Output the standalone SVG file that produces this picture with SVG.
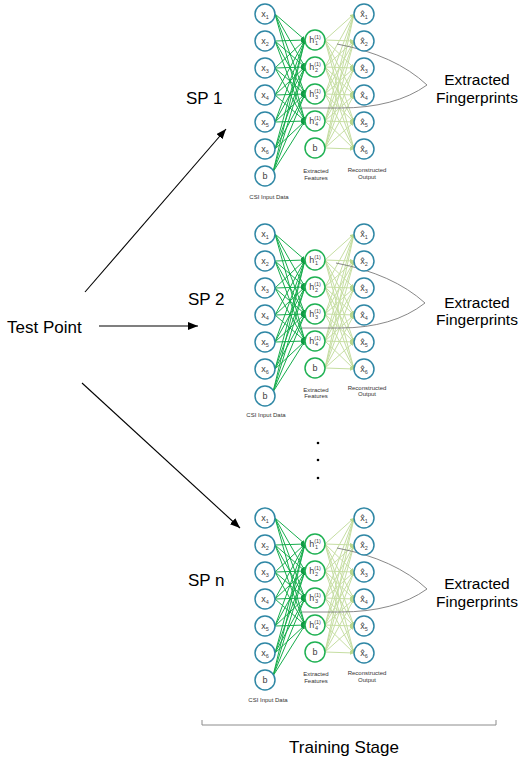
<svg xmlns="http://www.w3.org/2000/svg" width="520" height="760" viewBox="0 0 520 760">
<style>
.big{font-family:"Liberation Sans",Arial,sans-serif;font-size:17px;fill:#000}
.fp{font-family:"Liberation Sans",Arial,sans-serif;font-size:15.5px;fill:#000;text-anchor:middle}
.sm{font-family:"Liberation Sans",Arial,sans-serif;font-size:6px;fill:#333;text-anchor:middle}
.lbl{font-family:"Liberation Sans","DejaVu Sans",sans-serif;font-size:9px;fill:#404040;text-anchor:middle}
.sub{font-size:5.5px}
.in{fill:#fff;stroke:#2f87a5;stroke-width:1.5}
.hid{fill:#fff;stroke:#1fb153;stroke-width:1.5}
.out{fill:#fff;stroke:#2f87a5;stroke-width:1.5}
.e1 line{stroke:#16ad4c;stroke-width:1;marker-end:url(#ag)}
.e2 line{stroke:#c6dea2;stroke-width:1;marker-end:url(#al)}
.fpl{fill:none;stroke:#7a7a7a;stroke-width:0.9}
.arr{stroke:#000;stroke-width:1.1;marker-end:url(#ab)}
</style>
<defs>
<marker id="ag" viewBox="0 0 6 6" refX="6" refY="3" markerWidth="4" markerHeight="4" orient="auto"><path d="M0,0L6,3L0,6z" fill="#0f9a42"/></marker>
<marker id="al" viewBox="0 0 6 6" refX="6" refY="3" markerWidth="4" markerHeight="4" orient="auto"><path d="M0,0L6,3L0,6z" fill="#b8d68c"/></marker>
<marker id="ab" viewBox="0 0 10 8" refX="10" refY="4" markerWidth="10" markerHeight="8" markerUnits="userSpaceOnUse" orient="auto"><path d="M0,0L10,4L0,8z" fill="#000"/></marker>
</defs>
<rect width="520" height="760" fill="#fff"/>

<g id="main-connectors">
<line class="arr" x1="85" y1="292" x2="226" y2="129"/>
<line class="arr" x1="99" y1="326" x2="198" y2="326"/>
<line class="arr" x1="82" y1="383" x2="240" y2="528"/>
</g>

<g id="test-point"><text class="big" x="7" y="333">Test Point</text></g>
<g id="sp1-label"><text class="big" x="186" y="104">SP 1</text></g>
<g id="sp2-label"><text class="big" x="188" y="305">SP 2</text></g>
<g id="spn-label"><text class="big" x="188" y="586">SP n</text></g>

<g id="dots" fill="#000">
<circle cx="318" cy="443" r="1.3"/>
<circle cx="318" cy="460" r="1.3"/>
<circle cx="318" cy="478" r="1.3"/>
</g>

<!-- Network SP 1 -->
<g id="net1">
<g id="net1-connectors">
<g class="e1">
<line x1="275" y1="14" x2="305" y2="40"/><line x1="275" y1="14" x2="305" y2="67"/><line x1="275" y1="14" x2="305" y2="94"/><line x1="275" y1="14" x2="305" y2="121"/>
<line x1="275" y1="41" x2="305" y2="40"/><line x1="275" y1="41" x2="305" y2="67"/><line x1="275" y1="41" x2="305" y2="94"/><line x1="275" y1="41" x2="305" y2="121"/>
<line x1="275" y1="68" x2="305" y2="40"/><line x1="275" y1="68" x2="305" y2="67"/><line x1="275" y1="68" x2="305" y2="94"/><line x1="275" y1="68" x2="305" y2="121"/>
<line x1="275" y1="95" x2="305" y2="40"/><line x1="275" y1="95" x2="305" y2="67"/><line x1="275" y1="95" x2="305" y2="94"/><line x1="275" y1="95" x2="305" y2="121"/>
<line x1="275" y1="122" x2="305" y2="40"/><line x1="275" y1="122" x2="305" y2="67"/><line x1="275" y1="122" x2="305" y2="94"/><line x1="275" y1="122" x2="305" y2="121"/>
<line x1="275" y1="149" x2="305" y2="40"/><line x1="275" y1="149" x2="305" y2="67"/><line x1="275" y1="149" x2="305" y2="94"/><line x1="275" y1="149" x2="305" y2="121"/>
<line x1="273" y1="172" x2="305" y2="40"/><line x1="273" y1="172" x2="305" y2="67"/><line x1="273" y1="172" x2="305" y2="94"/><line x1="273" y1="172" x2="305" y2="121"/>
</g>
<g class="e2">
<line x1="325" y1="40" x2="354" y2="14"/><line x1="325" y1="40" x2="354" y2="41"/><line x1="325" y1="40" x2="354" y2="68"/><line x1="325" y1="40" x2="354" y2="95"/><line x1="325" y1="40" x2="354" y2="122"/><line x1="325" y1="40" x2="354" y2="149"/>
<line x1="325" y1="67" x2="354" y2="14"/><line x1="325" y1="67" x2="354" y2="41"/><line x1="325" y1="67" x2="354" y2="68"/><line x1="325" y1="67" x2="354" y2="95"/><line x1="325" y1="67" x2="354" y2="122"/><line x1="325" y1="67" x2="354" y2="149"/>
<line x1="325" y1="94" x2="354" y2="14"/><line x1="325" y1="94" x2="354" y2="41"/><line x1="325" y1="94" x2="354" y2="68"/><line x1="325" y1="94" x2="354" y2="95"/><line x1="325" y1="94" x2="354" y2="122"/><line x1="325" y1="94" x2="354" y2="149"/>
<line x1="325" y1="121" x2="354" y2="14"/><line x1="325" y1="121" x2="354" y2="41"/><line x1="325" y1="121" x2="354" y2="68"/><line x1="325" y1="121" x2="354" y2="95"/><line x1="325" y1="121" x2="354" y2="122"/><line x1="325" y1="121" x2="354" y2="149"/>
<line x1="325" y1="148" x2="354" y2="14"/><line x1="325" y1="148" x2="354" y2="41"/><line x1="325" y1="148" x2="354" y2="68"/><line x1="325" y1="148" x2="354" y2="95"/><line x1="325" y1="148" x2="354" y2="122"/><line x1="325" y1="148" x2="354" y2="149"/>
</g>
<path class="fpl" d="M337,44 Q395,55 427,85"/>
<path class="fpl" d="M302,108 L340,108 Q395,108 427,85"/>
</g>
<g id="net1-x1"><circle class="in" cx="265" cy="14" r="10"/><text class="lbl" x="265" y="17">x<tspan class="sub" dy="2">1</tspan></text></g>
<g id="net1-x2"><circle class="in" cx="265" cy="41" r="10"/><text class="lbl" x="265" y="44">x<tspan class="sub" dy="2">2</tspan></text></g>
<g id="net1-x3"><circle class="in" cx="265" cy="68" r="10"/><text class="lbl" x="265" y="71">x<tspan class="sub" dy="2">3</tspan></text></g>
<g id="net1-x4"><circle class="in" cx="265" cy="95" r="10"/><text class="lbl" x="265" y="98">x<tspan class="sub" dy="2">4</tspan></text></g>
<g id="net1-x5"><circle class="in" cx="265" cy="122" r="10"/><text class="lbl" x="265" y="125">x<tspan class="sub" dy="2">5</tspan></text></g>
<g id="net1-x6"><circle class="in" cx="265" cy="149" r="10"/><text class="lbl" x="265" y="152">x<tspan class="sub" dy="2">6</tspan></text></g>
<g id="net1-bin"><circle class="in" cx="265" cy="176" r="10"/><text class="lbl" x="265" y="179">b</text></g>
<g id="net1-h1"><circle class="hid" cx="315" cy="40" r="10"/><text class="lbl" x="315" y="43">h<tspan class="sub" dy="-4">(1)</tspan><tspan class="sub" dx="-6" dy="6">1</tspan></text></g>
<g id="net1-h2"><circle class="hid" cx="315" cy="67" r="10"/><text class="lbl" x="315" y="70">h<tspan class="sub" dy="-4">(1)</tspan><tspan class="sub" dx="-6" dy="6">2</tspan></text></g>
<g id="net1-h3"><circle class="hid" cx="315" cy="94" r="10"/><text class="lbl" x="315" y="97">h<tspan class="sub" dy="-4">(1)</tspan><tspan class="sub" dx="-6" dy="6">3</tspan></text></g>
<g id="net1-h4"><circle class="hid" cx="315" cy="121" r="10"/><text class="lbl" x="315" y="124">h<tspan class="sub" dy="-4">(1)</tspan><tspan class="sub" dx="-6" dy="6">4</tspan></text></g>
<g id="net1-bh"><circle class="hid" cx="315" cy="148" r="10"/><text class="lbl" x="315" y="151">b</text></g>
<g id="net1-o1"><circle class="out" cx="364" cy="14" r="10"/><text class="lbl" x="364" y="17">x̂<tspan class="sub" dy="2">1</tspan></text></g>
<g id="net1-o2"><circle class="out" cx="364" cy="41" r="10"/><text class="lbl" x="364" y="44">x̂<tspan class="sub" dy="2">2</tspan></text></g>
<g id="net1-o3"><circle class="out" cx="364" cy="68" r="10"/><text class="lbl" x="364" y="71">x̂<tspan class="sub" dy="2">3</tspan></text></g>
<g id="net1-o4"><circle class="out" cx="364" cy="95" r="10"/><text class="lbl" x="364" y="98">x̂<tspan class="sub" dy="2">4</tspan></text></g>
<g id="net1-o5"><circle class="out" cx="364" cy="122" r="10"/><text class="lbl" x="364" y="125">x̂<tspan class="sub" dy="2">5</tspan></text></g>
<g id="net1-o6"><circle class="out" cx="364" cy="149" r="10"/><text class="lbl" x="364" y="152">x̂<tspan class="sub" dy="2">6</tspan></text></g>
<g id="net1-labels">
<text class="sm" x="269" y="199">CSI Input Data</text>
<text class="sm" x="316" y="173">Extracted</text><text class="sm" x="316" y="180">Features</text>
<text class="sm" x="367" y="172">Reconstructed</text><text class="sm" x="367" y="179">Output</text>
</g>
<g id="net1-fp"><text class="fp" x="477" y="85">Extracted</text><text class="fp" x="477" y="103">Fingerprints</text></g>
</g>

<!-- Network SP 2 -->
<g id="net2" transform="translate(0,220)">
<g id="net2-connectors">
<g class="e1">
<line x1="275" y1="14" x2="305" y2="40"/><line x1="275" y1="14" x2="305" y2="67"/><line x1="275" y1="14" x2="305" y2="94"/><line x1="275" y1="14" x2="305" y2="121"/>
<line x1="275" y1="41" x2="305" y2="40"/><line x1="275" y1="41" x2="305" y2="67"/><line x1="275" y1="41" x2="305" y2="94"/><line x1="275" y1="41" x2="305" y2="121"/>
<line x1="275" y1="68" x2="305" y2="40"/><line x1="275" y1="68" x2="305" y2="67"/><line x1="275" y1="68" x2="305" y2="94"/><line x1="275" y1="68" x2="305" y2="121"/>
<line x1="275" y1="95" x2="305" y2="40"/><line x1="275" y1="95" x2="305" y2="67"/><line x1="275" y1="95" x2="305" y2="94"/><line x1="275" y1="95" x2="305" y2="121"/>
<line x1="275" y1="122" x2="305" y2="40"/><line x1="275" y1="122" x2="305" y2="67"/><line x1="275" y1="122" x2="305" y2="94"/><line x1="275" y1="122" x2="305" y2="121"/>
<line x1="275" y1="149" x2="305" y2="40"/><line x1="275" y1="149" x2="305" y2="67"/><line x1="275" y1="149" x2="305" y2="94"/><line x1="275" y1="149" x2="305" y2="121"/>
<line x1="273" y1="172" x2="305" y2="40"/><line x1="273" y1="172" x2="305" y2="67"/><line x1="273" y1="172" x2="305" y2="94"/><line x1="273" y1="172" x2="305" y2="121"/>
</g>
<g class="e2">
<line x1="325" y1="40" x2="354" y2="14"/><line x1="325" y1="40" x2="354" y2="41"/><line x1="325" y1="40" x2="354" y2="68"/><line x1="325" y1="40" x2="354" y2="95"/><line x1="325" y1="40" x2="354" y2="122"/><line x1="325" y1="40" x2="354" y2="149"/>
<line x1="325" y1="67" x2="354" y2="14"/><line x1="325" y1="67" x2="354" y2="41"/><line x1="325" y1="67" x2="354" y2="68"/><line x1="325" y1="67" x2="354" y2="95"/><line x1="325" y1="67" x2="354" y2="122"/><line x1="325" y1="67" x2="354" y2="149"/>
<line x1="325" y1="94" x2="354" y2="14"/><line x1="325" y1="94" x2="354" y2="41"/><line x1="325" y1="94" x2="354" y2="68"/><line x1="325" y1="94" x2="354" y2="95"/><line x1="325" y1="94" x2="354" y2="122"/><line x1="325" y1="94" x2="354" y2="149"/>
<line x1="325" y1="121" x2="354" y2="14"/><line x1="325" y1="121" x2="354" y2="41"/><line x1="325" y1="121" x2="354" y2="68"/><line x1="325" y1="121" x2="354" y2="95"/><line x1="325" y1="121" x2="354" y2="122"/><line x1="325" y1="121" x2="354" y2="149"/>
<line x1="325" y1="148" x2="354" y2="14"/><line x1="325" y1="148" x2="354" y2="41"/><line x1="325" y1="148" x2="354" y2="68"/><line x1="325" y1="148" x2="354" y2="95"/><line x1="325" y1="148" x2="354" y2="122"/><line x1="325" y1="148" x2="354" y2="149"/>
</g>
<path class="fpl" d="M336,43 Q393,54 425,83"/>
<path class="fpl" d="M302,108 L340,108 Q393,108 425,83"/>
</g>
<g id="net2-x1"><circle class="in" cx="265" cy="14" r="10"/><text class="lbl" x="265" y="17">x<tspan class="sub" dy="2">1</tspan></text></g>
<g id="net2-x2"><circle class="in" cx="265" cy="41" r="10"/><text class="lbl" x="265" y="44">x<tspan class="sub" dy="2">2</tspan></text></g>
<g id="net2-x3"><circle class="in" cx="265" cy="68" r="10"/><text class="lbl" x="265" y="71">x<tspan class="sub" dy="2">3</tspan></text></g>
<g id="net2-x4"><circle class="in" cx="265" cy="95" r="10"/><text class="lbl" x="265" y="98">x<tspan class="sub" dy="2">4</tspan></text></g>
<g id="net2-x5"><circle class="in" cx="265" cy="122" r="10"/><text class="lbl" x="265" y="125">x<tspan class="sub" dy="2">5</tspan></text></g>
<g id="net2-x6"><circle class="in" cx="265" cy="149" r="10"/><text class="lbl" x="265" y="152">x<tspan class="sub" dy="2">6</tspan></text></g>
<g id="net2-bin"><circle class="in" cx="265" cy="176" r="10"/><text class="lbl" x="265" y="179">b</text></g>
<g id="net2-h1"><circle class="hid" cx="315" cy="40" r="10"/><text class="lbl" x="315" y="43">h<tspan class="sub" dy="-4">(1)</tspan><tspan class="sub" dx="-6" dy="6">1</tspan></text></g>
<g id="net2-h2"><circle class="hid" cx="315" cy="67" r="10"/><text class="lbl" x="315" y="70">h<tspan class="sub" dy="-4">(1)</tspan><tspan class="sub" dx="-6" dy="6">2</tspan></text></g>
<g id="net2-h3"><circle class="hid" cx="315" cy="94" r="10"/><text class="lbl" x="315" y="97">h<tspan class="sub" dy="-4">(1)</tspan><tspan class="sub" dx="-6" dy="6">3</tspan></text></g>
<g id="net2-h4"><circle class="hid" cx="315" cy="121" r="10"/><text class="lbl" x="315" y="124">h<tspan class="sub" dy="-4">(1)</tspan><tspan class="sub" dx="-6" dy="6">4</tspan></text></g>
<g id="net2-bh"><circle class="hid" cx="315" cy="148" r="10"/><text class="lbl" x="315" y="151">b</text></g>
<g id="net2-o1"><circle class="out" cx="364" cy="14" r="10"/><text class="lbl" x="364" y="17">x̂<tspan class="sub" dy="2">1</tspan></text></g>
<g id="net2-o2"><circle class="out" cx="364" cy="41" r="10"/><text class="lbl" x="364" y="44">x̂<tspan class="sub" dy="2">2</tspan></text></g>
<g id="net2-o3"><circle class="out" cx="364" cy="68" r="10"/><text class="lbl" x="364" y="71">x̂<tspan class="sub" dy="2">3</tspan></text></g>
<g id="net2-o4"><circle class="out" cx="364" cy="95" r="10"/><text class="lbl" x="364" y="98">x̂<tspan class="sub" dy="2">4</tspan></text></g>
<g id="net2-o5"><circle class="out" cx="364" cy="122" r="10"/><text class="lbl" x="364" y="125">x̂<tspan class="sub" dy="2">5</tspan></text></g>
<g id="net2-o6"><circle class="out" cx="364" cy="149" r="10"/><text class="lbl" x="364" y="152">x̂<tspan class="sub" dy="2">6</tspan></text></g>
<g id="net2-labels">
<text class="sm" x="266" y="197">CSI Input Data</text>
<text class="sm" x="316" y="172">Extracted</text><text class="sm" x="316" y="178">Features</text>
<text class="sm" x="367" y="170">Reconstructed</text><text class="sm" x="367" y="176">Output</text>
</g>
<g id="net2-fp"><text class="fp" x="477" y="88">Extracted</text><text class="fp" x="477" y="105">Fingerprints</text></g>
</g>

<!-- Network SP n -->
<g id="net3" transform="translate(0,504)">
<g id="net3-connectors">
<g class="e1">
<line x1="275" y1="14" x2="305" y2="40"/><line x1="275" y1="14" x2="305" y2="67"/><line x1="275" y1="14" x2="305" y2="94"/><line x1="275" y1="14" x2="305" y2="121"/>
<line x1="275" y1="41" x2="305" y2="40"/><line x1="275" y1="41" x2="305" y2="67"/><line x1="275" y1="41" x2="305" y2="94"/><line x1="275" y1="41" x2="305" y2="121"/>
<line x1="275" y1="68" x2="305" y2="40"/><line x1="275" y1="68" x2="305" y2="67"/><line x1="275" y1="68" x2="305" y2="94"/><line x1="275" y1="68" x2="305" y2="121"/>
<line x1="275" y1="95" x2="305" y2="40"/><line x1="275" y1="95" x2="305" y2="67"/><line x1="275" y1="95" x2="305" y2="94"/><line x1="275" y1="95" x2="305" y2="121"/>
<line x1="275" y1="122" x2="305" y2="40"/><line x1="275" y1="122" x2="305" y2="67"/><line x1="275" y1="122" x2="305" y2="94"/><line x1="275" y1="122" x2="305" y2="121"/>
<line x1="275" y1="149" x2="305" y2="40"/><line x1="275" y1="149" x2="305" y2="67"/><line x1="275" y1="149" x2="305" y2="94"/><line x1="275" y1="149" x2="305" y2="121"/>
<line x1="273" y1="172" x2="305" y2="40"/><line x1="273" y1="172" x2="305" y2="67"/><line x1="273" y1="172" x2="305" y2="94"/><line x1="273" y1="172" x2="305" y2="121"/>
</g>
<g class="e2">
<line x1="325" y1="40" x2="354" y2="14"/><line x1="325" y1="40" x2="354" y2="41"/><line x1="325" y1="40" x2="354" y2="68"/><line x1="325" y1="40" x2="354" y2="95"/><line x1="325" y1="40" x2="354" y2="122"/><line x1="325" y1="40" x2="354" y2="149"/>
<line x1="325" y1="67" x2="354" y2="14"/><line x1="325" y1="67" x2="354" y2="41"/><line x1="325" y1="67" x2="354" y2="68"/><line x1="325" y1="67" x2="354" y2="95"/><line x1="325" y1="67" x2="354" y2="122"/><line x1="325" y1="67" x2="354" y2="149"/>
<line x1="325" y1="94" x2="354" y2="14"/><line x1="325" y1="94" x2="354" y2="41"/><line x1="325" y1="94" x2="354" y2="68"/><line x1="325" y1="94" x2="354" y2="95"/><line x1="325" y1="94" x2="354" y2="122"/><line x1="325" y1="94" x2="354" y2="149"/>
<line x1="325" y1="121" x2="354" y2="14"/><line x1="325" y1="121" x2="354" y2="41"/><line x1="325" y1="121" x2="354" y2="68"/><line x1="325" y1="121" x2="354" y2="95"/><line x1="325" y1="121" x2="354" y2="122"/><line x1="325" y1="121" x2="354" y2="149"/>
<line x1="325" y1="148" x2="354" y2="14"/><line x1="325" y1="148" x2="354" y2="41"/><line x1="325" y1="148" x2="354" y2="68"/><line x1="325" y1="148" x2="354" y2="95"/><line x1="325" y1="148" x2="354" y2="122"/><line x1="325" y1="148" x2="354" y2="149"/>
</g>
<path class="fpl" d="M337,44 Q395,55 427,85"/>
<path class="fpl" d="M302,108 L340,108 Q395,108 427,85"/>
</g>
<g id="net3-x1"><circle class="in" cx="265" cy="14" r="10"/><text class="lbl" x="265" y="17">x<tspan class="sub" dy="2">1</tspan></text></g>
<g id="net3-x2"><circle class="in" cx="265" cy="41" r="10"/><text class="lbl" x="265" y="44">x<tspan class="sub" dy="2">2</tspan></text></g>
<g id="net3-x3"><circle class="in" cx="265" cy="68" r="10"/><text class="lbl" x="265" y="71">x<tspan class="sub" dy="2">3</tspan></text></g>
<g id="net3-x4"><circle class="in" cx="265" cy="95" r="10"/><text class="lbl" x="265" y="98">x<tspan class="sub" dy="2">4</tspan></text></g>
<g id="net3-x5"><circle class="in" cx="265" cy="122" r="10"/><text class="lbl" x="265" y="125">x<tspan class="sub" dy="2">5</tspan></text></g>
<g id="net3-x6"><circle class="in" cx="265" cy="149" r="10"/><text class="lbl" x="265" y="152">x<tspan class="sub" dy="2">6</tspan></text></g>
<g id="net3-bin"><circle class="in" cx="265" cy="176" r="10"/><text class="lbl" x="265" y="179">b</text></g>
<g id="net3-h1"><circle class="hid" cx="315" cy="40" r="10"/><text class="lbl" x="315" y="43">h<tspan class="sub" dy="-4">(1)</tspan><tspan class="sub" dx="-6" dy="6">1</tspan></text></g>
<g id="net3-h2"><circle class="hid" cx="315" cy="67" r="10"/><text class="lbl" x="315" y="70">h<tspan class="sub" dy="-4">(1)</tspan><tspan class="sub" dx="-6" dy="6">2</tspan></text></g>
<g id="net3-h3"><circle class="hid" cx="315" cy="94" r="10"/><text class="lbl" x="315" y="97">h<tspan class="sub" dy="-4">(1)</tspan><tspan class="sub" dx="-6" dy="6">3</tspan></text></g>
<g id="net3-h4"><circle class="hid" cx="315" cy="121" r="10"/><text class="lbl" x="315" y="124">h<tspan class="sub" dy="-4">(1)</tspan><tspan class="sub" dx="-6" dy="6">4</tspan></text></g>
<g id="net3-bh"><circle class="hid" cx="315" cy="148" r="10"/><text class="lbl" x="315" y="151">b</text></g>
<g id="net3-o1"><circle class="out" cx="364" cy="14" r="10"/><text class="lbl" x="364" y="17">x̂<tspan class="sub" dy="2">1</tspan></text></g>
<g id="net3-o2"><circle class="out" cx="364" cy="41" r="10"/><text class="lbl" x="364" y="44">x̂<tspan class="sub" dy="2">2</tspan></text></g>
<g id="net3-o3"><circle class="out" cx="364" cy="68" r="10"/><text class="lbl" x="364" y="71">x̂<tspan class="sub" dy="2">3</tspan></text></g>
<g id="net3-o4"><circle class="out" cx="364" cy="95" r="10"/><text class="lbl" x="364" y="98">x̂<tspan class="sub" dy="2">4</tspan></text></g>
<g id="net3-o5"><circle class="out" cx="364" cy="122" r="10"/><text class="lbl" x="364" y="125">x̂<tspan class="sub" dy="2">5</tspan></text></g>
<g id="net3-o6"><circle class="out" cx="364" cy="149" r="10"/><text class="lbl" x="364" y="152">x̂<tspan class="sub" dy="2">6</tspan></text></g>
<g id="net3-labels">
<text class="sm" x="268" y="198">CSI Input Data</text>
<text class="sm" x="316" y="172">Extracted</text><text class="sm" x="316" y="179">Features</text>
<text class="sm" x="367" y="171">Reconstructed</text><text class="sm" x="367" y="178">Output</text>
</g>
<g id="net3-fp"><text class="fp" x="477" y="85">Extracted</text><text class="fp" x="477" y="103">Fingerprints</text></g>
</g>

<g id="training-stage">
<path d="M202,720 V725 H496 V720" fill="none" stroke="#8c8c8c" stroke-width="1"/>
<text class="big" x="344" y="753" text-anchor="middle">Training Stage</text>
</g>
</svg>
